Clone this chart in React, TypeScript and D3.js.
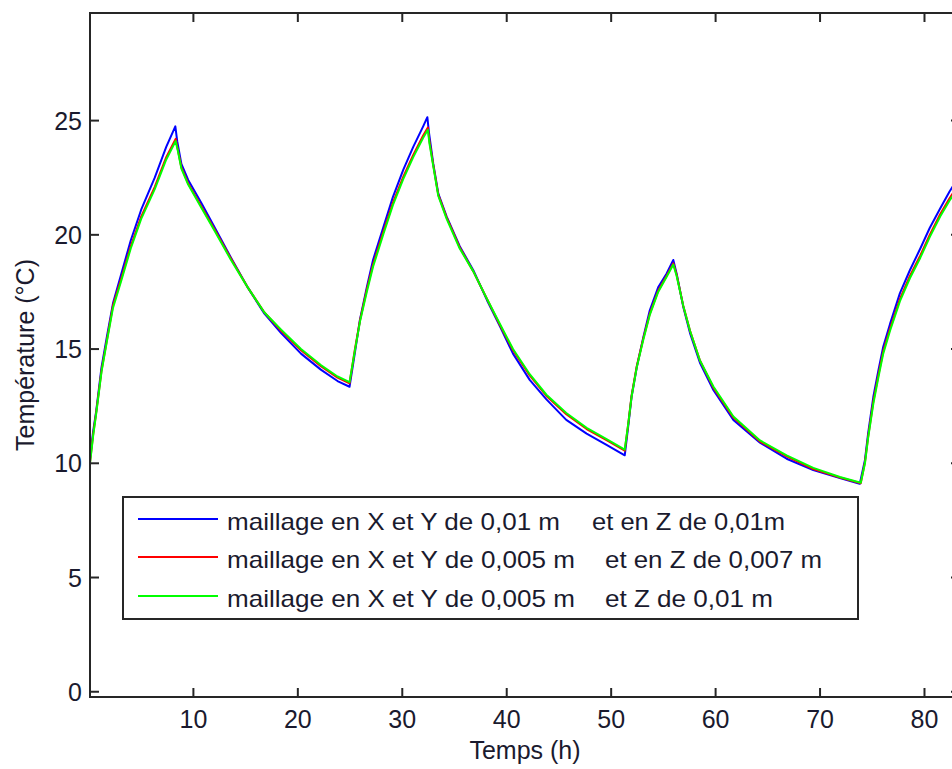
import React from "react";
import * as d3 from "d3";

const timeBlue = [0.1,0.4,0.7,1.2,1.7,2.3,3.1,4.0,5.0,6.3,7.4,8.27,8.45,8.85,9.5,10.75,12.0,13.6,15.2,16.8,18.4,20.3,22.2,23.8,24.95,25.45,25.95,26.6,27.2,28.2,29.1,30.1,31.05,32.0,32.4,32.55,32.97,33.45,34.25,35.5,36.8,38.1,39.35,40.6,42.2,43.8,45.7,47.65,49.6,51.3,51.63,51.95,52.45,53.07,53.7,54.5,55.3,55.95,56.27,56.9,57.55,58.5,59.8,61.7,64.25,66.8,69.35,71.9,73.8,74.3,74.6,75.1,75.6,76.05,76.7,77.65,78.6,79.6,80.5,81.5,82.4,83.4];
const tempBlue = [10.2,11.4,12.3,14.2,15.5,17.0,18.3,19.75,21.1,22.5,23.85,24.75,24.1,23.1,22.4,21.4,20.35,19.0,17.7,16.55,15.7,14.8,14.1,13.6,13.35,14.8,16.3,17.7,18.9,20.35,21.65,22.85,23.85,24.75,25.15,24.5,23.1,21.8,20.8,19.5,18.45,17.15,16.0,14.8,13.65,12.8,11.9,11.3,10.8,10.35,11.6,12.9,14.2,15.5,16.7,17.7,18.3,18.9,18.3,16.85,15.7,14.4,13.2,11.9,10.9,10.2,9.7,9.35,9.1,10.15,11.3,12.9,14.1,15.1,16.1,17.45,18.45,19.4,20.3,21.15,21.9,22.6];

const timeGreen = [0.1,0.4,0.7,1.2,1.7,2.3,3.1,4.0,5.0,6.3,7.4,8.3,8.5,8.85,9.5,10.75,12.0,13.6,15.2,16.8,18.4,20.3,22.2,23.8,24.95,25.45,25.95,26.6,27.2,28.2,29.1,30.1,31.05,32.0,32.45,32.6,32.97,33.45,34.25,35.5,36.8,38.1,39.35,40.6,42.2,43.8,45.7,47.65,49.6,51.3,51.63,51.95,52.45,53.07,53.7,54.5,55.3,55.95,56.27,56.9,57.55,58.5,59.8,61.7,64.25,66.8,69.35,71.9,73.9,74.3,74.6,75.1,75.6,76.05,76.7,77.65,78.6,79.6,80.5,81.5,82.4,83.4];
const tempGreen = [10.0,11.2,12.2,14.0,15.3,16.8,18.0,19.4,20.7,22.0,23.3,24.1,23.7,22.9,22.2,21.2,20.2,18.9,17.7,16.6,15.85,15.0,14.3,13.8,13.55,14.9,16.2,17.5,18.6,20.05,21.3,22.45,23.4,24.25,24.6,24.0,23.0,21.7,20.7,19.4,18.4,17.2,16.1,15.0,13.9,13.0,12.2,11.55,11.05,10.6,11.7,12.9,14.2,15.4,16.5,17.5,18.15,18.7,18.2,16.9,15.8,14.5,13.35,12.05,11.0,10.35,9.8,9.4,9.15,10.0,11.1,12.6,13.8,14.8,15.8,17.1,18.1,19.0,19.9,20.8,21.5,22.2];

const timeRed = timeGreen;
const tempRed = [10.05,11.25,12.25,14.05,15.35,16.9,18.1,19.5,20.8,22.1,23.4,24.2,23.75,22.95,22.25,21.25,20.25,18.95,17.7,16.6,15.8,14.95,14.25,13.75,13.5,14.95,16.25,17.6,18.7,20.15,21.4,22.55,23.5,24.35,24.7,24.1,23.05,21.75,20.75,19.45,18.4,17.2,16.05,14.95,13.85,12.95,12.15,11.5,11.0,10.55,11.7,12.95,14.25,15.45,16.55,17.55,18.2,18.75,18.25,16.9,15.8,14.5,13.3,12.0,10.95,10.3,9.75,9.38,9.13,10.05,11.15,12.7,13.9,14.9,15.9,17.2,18.2,19.1,20.0,20.9,21.6,22.3];

const xTicks = [10, 20, 30, 40, 50, 60, 70, 80];
const yTicks = [0, 5, 10, 15, 20, 25];

const legendPart1 = [
  "maillage en X et Y de 0,01 m",
  "maillage en X et Y de 0,005 m",
  "maillage en X et Y de 0,005 m",
];
const legendPart2 = [
  "et en Z de 0,01m",
  "et en Z de 0,007 m",
  "et Z de 0,01 m",
];
const seriesColors = ["#0000ff", "#ff0000", "#00ff00"];

const xLabel = "Temps (h)";
const yLabel = "Température (°C)";

export default function App() {
  const W = 952;
  const H = 769;
  const left = 90, right = 960, top = 13, bottom = 697;
  const x = d3.scaleLinear().domain([0.1, 83.4]).range([left, right]);
  const y = d3.scaleLinear().domain([-0.23, 29.71]).range([bottom, top]);
  const line = d3
    .line<[number, number]>()
    .x((d) => x(d[0]))
    .y((d) => y(d[1]));

  const series = [
    timeBlue.map((t, i) => [t, tempBlue[i]] as [number, number]),
    timeRed.map((t, i) => [t, tempRed[i]] as [number, number]),
    timeGreen.map((t, i) => [t, tempGreen[i]] as [number, number]),
  ];

  const font = "Arial, 'Liberation Sans', sans-serif";
  const axisColor = "#262626";
  const tickLen = 9;

  const legX = 123, legY = 497, legW = 735, legH = 122;
  const rowY = [519, 557, 596];
  const part1Len = [333, 348, 348];
  const part2X = [592, 605, 605];
  const part2Len = [193, 217, 168];

  return (
    <div style={{ position: "absolute", left: 0, top: 0, width: W, height: H, overflow: "hidden", background: "#fff" }}>
      <svg width={W} height={H} style={{ display: "block", overflow: "hidden" }} fontFamily={font}>
        <rect x={0} y={0} width={W} height={H} fill="#fff" />
        <defs>
          <clipPath id="plotClip">
            <rect x={left} y={top} width={right - left} height={bottom - top} />
          </clipPath>
        </defs>
        <g clipPath="url(#plotClip)">
          {series.map((s, i) => (
            <path key={i} d={line(s) || ""} fill="none" stroke={seriesColors[i]} strokeWidth={2} strokeLinejoin="round" />
          ))}
        </g>
        {/* axes box */}
        <rect x={left} y={top} width={right - left} height={bottom - top} fill="none" stroke={axisColor} strokeWidth={2} />
        {xTicks.map((t) => (
          <g key={"xt" + t}>
            <line x1={x(t)} x2={x(t)} y1={bottom} y2={bottom - tickLen} stroke={axisColor} strokeWidth={2} />
            <line x1={x(t)} x2={x(t)} y1={top} y2={top + tickLen} stroke={axisColor} strokeWidth={2} />
            <text x={x(t)} y={728} textAnchor="middle" fontSize={25} fill="#1a1a2e">
              {t}
            </text>
          </g>
        ))}
        {yTicks.map((t) => (
          <g key={"yt" + t}>
            <line x1={left} x2={left + tickLen} y1={y(t)} y2={y(t)} stroke={axisColor} strokeWidth={2} />
            <line x1={right} x2={right - tickLen} y1={y(t)} y2={y(t)} stroke={axisColor} strokeWidth={2} />
            <text x={82} y={y(t)} dy="0.36em" textAnchor="end" fontSize={25} fill="#1a1a2e">
              {t}
            </text>
          </g>
        ))}
        <text x={(left + right) / 2} y={759} textAnchor="middle" fontSize={25} fill="#1a1a2e">
          {xLabel}
        </text>
        <text
          transform={`translate(34, ${(top + bottom) / 2}) rotate(-90)`}
          textAnchor="middle"
          fontSize={25}
          fill="#1a1a2e"
        >
          {yLabel}
        </text>
        {/* legend */}
        <rect x={legX} y={legY} width={legW} height={legH} fill="#fff" stroke={axisColor} strokeWidth={2} />
        {rowY.map((ry, i) => (
          <g key={"leg" + i}>
            <line x1={138} x2={218} y1={ry} y2={ry} stroke={seriesColors[i]} strokeWidth={2} />
            <text x={227} y={ry + 11} fontSize={24} fill="#1a1a2e" textLength={part1Len[i]} lengthAdjust="spacingAndGlyphs">
              {legendPart1[i]}
            </text>
            <text x={part2X[i]} y={ry + 11} fontSize={24} fill="#1a1a2e" textLength={part2Len[i]} lengthAdjust="spacingAndGlyphs">
              {legendPart2[i]}
            </text>
          </g>
        ))}
      </svg>
    </div>
  );
}
